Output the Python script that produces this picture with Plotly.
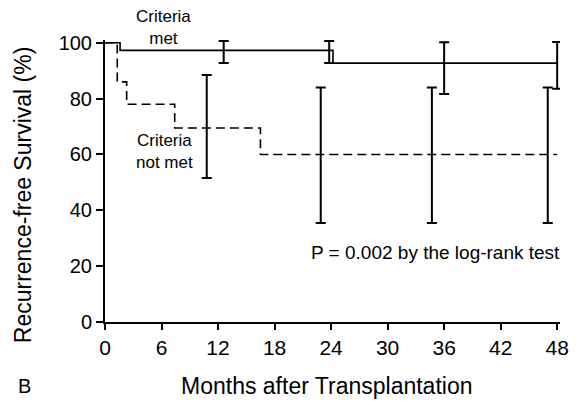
import plotly.graph_objects as go

# Kaplan-Meier step curves (months, % recurrence-free)
met_months = [0, 1.6, 24.2, 48]
met_surv = [100, 97.3, 92.7, 92.7]
notmet_months = [0, 1.3, 2.3, 7.4, 16.5, 48]
notmet_surv = [100, 86, 78, 69.5, 60, 60]

# Confidence bars
met_bar_x = [12.6, 23.8, 36, 48]
met_bar_y = [97.3, 97.3, 92.7, 92.7]
met_bar_hi = [100.6, 100.6, 100.2, 100.3]
met_bar_lo = [92.8, 92.8, 81.7, 83.5]

notmet_bar_x = [10.8, 22.9, 34.7, 47]
notmet_bar_y = [69.5, 60, 60, 60]
notmet_bar_hi = [88.5, 84, 84, 84]
notmet_bar_lo = [51.6, 35.5, 35.5, 35.5]

x_ticks = [0, 6, 12, 18, 24, 30, 36, 42, 48]
y_ticks = [0, 20, 40, 60, 80, 100]

FONT = "Liberation Sans, Arial, sans-serif"

fig = go.Figure()

fig.add_trace(go.Scatter(
    x=met_months, y=met_surv, mode='lines', line_shape='hv',
    line=dict(color='black', width=1.6), showlegend=False
))
fig.add_trace(go.Scatter(
    x=notmet_months, y=notmet_surv, mode='lines', line_shape='hv',
    line=dict(color='black', width=1.6, dash='9px,5px'), showlegend=False
))


def add_bars(xs, ys, hi, lo):
    fig.add_trace(go.Scatter(
        x=xs, y=ys, mode='markers',
        marker=dict(size=1, color='rgba(0,0,0,0)'),
        error_y=dict(
            type='data', symmetric=False,
            array=[h - y for h, y in zip(hi, ys)],
            arrayminus=[y - l for l, y in zip(lo, ys)],
            color='black', thickness=2, width=5
        ),
        cliponaxis=False, showlegend=False
    ))


add_bars(met_bar_x, met_bar_y, met_bar_hi, met_bar_lo)
add_bars(notmet_bar_x, notmet_bar_y, notmet_bar_hi, notmet_bar_lo)

fig.update_xaxes(
    range=[0, 48.3], tickvals=x_ticks, ticks='outside', ticklen=6,
    tickwidth=2, tickcolor='black', showline=True, linecolor='black',
    linewidth=2, showgrid=False, zeroline=False,
    tickfont=dict(family=FONT, size=21, color='black')
)
fig.update_yaxes(
    range=[0, 101], tickvals=y_ticks, ticks='outside', ticklen=7,
    tickwidth=2, tickcolor='black', showline=True, linecolor='black',
    linewidth=2, showgrid=False, zeroline=False,
    tickfont=dict(family=FONT, size=20, color='black')
)


def label(text, x, y, size, xanchor='center', **kw):
    fig.add_annotation(x=x, y=y, xref='paper', yref='paper', text=text,
                       showarrow=False, xanchor=xanchor, yanchor='middle',
                       font=dict(family=FONT, size=size, color='black'), **kw)


label('Criteria<br>met', 0.128, 1.046, 17)
label('Criteria<br>not met', 0.13, 0.606, 17)
label('P = 0.002 by the log-rank test', 1.004, 0.248, 19, xanchor='right')
label('B', -0.196, -0.227, 20, xanchor='left')
label('Months after Transplantation', 0.489, -0.227, 23)
label('Recurrence-free Survival (%)', -0.18, 0.45, 23, textangle=-90)

fig.update_layout(
    width=581, height=405,
    margin=dict(l=105, r=16, t=40, b=83),
    plot_bgcolor='white', paper_bgcolor='white',
    font=dict(family=FONT, color='black')
)

fig.write_html("out.html", config={'displayModeBar': False},
               post_script="document.body.style.margin='0';")
